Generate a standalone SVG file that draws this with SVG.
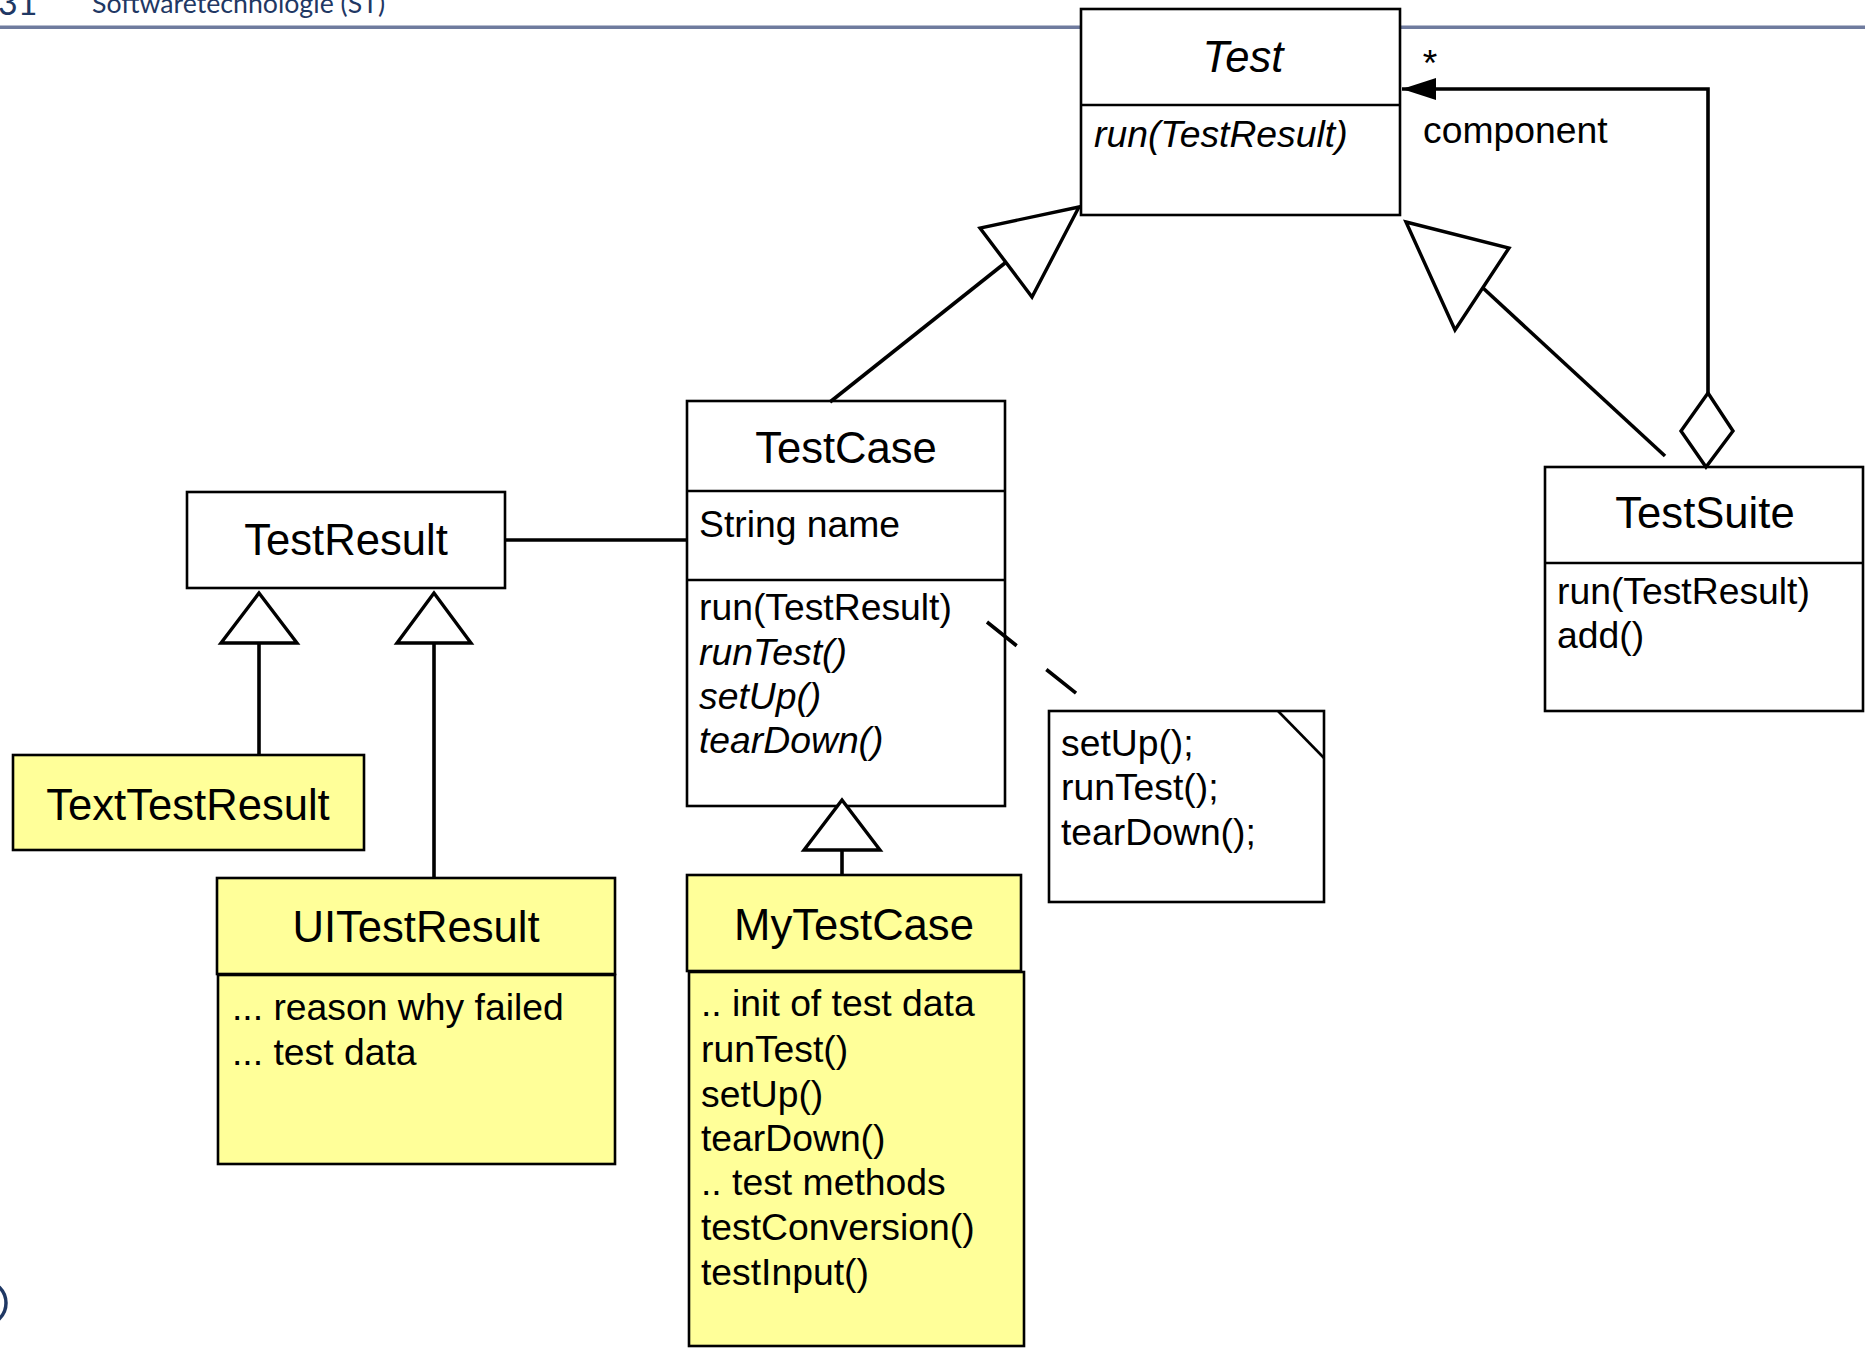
<svg xmlns="http://www.w3.org/2000/svg" width="1865" height="1350" viewBox="0 0 1865 1350">
<style>
.box{fill:#ffffff;stroke:#000;stroke-width:2.6}
.ybox{fill:#ffff99;stroke:#000;stroke-width:2.6}
.sep{stroke:#000;stroke-width:2.6}
.t{font-family:"Liberation Sans",Arial,sans-serif;fill:#000}
.cls{font-size:43.6px}
.mem{font-size:37.3px}
.it{font-style:italic}
.mid{text-anchor:middle}
.conn{stroke:#000;stroke-width:3.6;fill:none}
.tri{fill:#fff;stroke:#000;stroke-width:3.4;stroke-linejoin:miter}
.hdr{font-family:Lato,"Open Sans",sans-serif;fill:#1f3864}
</style>
<defs>
<marker id="arrowFilled" markerUnits="userSpaceOnUse" markerWidth="36" markerHeight="24" refX="34" refY="12" orient="auto">
<path d="M0,1 L34,12 L0,23 Z" fill="#000"/>
</marker>
</defs>
<g id="header">
<rect x="0" y="25.5" width="1865" height="3.5" fill="#6f7b9e"/>
<text class="hdr" x="-2" y="15" font-size="34">31</text>
<text class="hdr" x="92" y="13" font-size="26.7">Softwaretechnologie (ST)</text>
<circle cx="-16" cy="1303" r="22" fill="none" stroke="#1f3864" stroke-width="3.5"/>
</g>
<g id="Test">
<rect class="box" x="1081" y="9" width="319" height="206"/>
<line class="sep" x1="1081" y1="105" x2="1400" y2="105"/>
<text class="t cls it mid" x="1243" y="72">Test</text>
<text class="t mem it" x="1094" y="147">run(TestResult)</text>
</g>
<g id="TestCase">
<rect class="box" x="687" y="401" width="318" height="405"/>
<line class="sep" x1="687" y1="491" x2="1005" y2="491"/>
<line class="sep" x1="687" y1="580" x2="1005" y2="580"/>
<text class="t cls mid" x="846" y="463">TestCase</text>
<text class="t mem" x="699" y="537">String name</text>
<text class="t mem" x="699" y="620">run(TestResult)</text>
<text class="t mem it" x="699" y="665">runTest()</text>
<text class="t mem it" x="699" y="709">setUp()</text>
<text class="t mem it" x="699" y="753">tearDown()</text>
</g>
<g id="TestResult">
<rect class="box" x="187" y="492" width="318" height="96"/>
<text class="t cls mid" x="346" y="555">TestResult</text>
</g>
<g id="TextTestResult">
<rect class="ybox" x="13" y="755" width="351" height="95"/>
<text class="t cls mid" x="188" y="820">TextTestResult</text>
</g>
<g id="UITestResult">
<rect class="ybox" x="218" y="975" width="397" height="189"/>
<rect class="ybox" x="217" y="878" width="398" height="96"/>
<text class="t cls mid" x="416" y="942">UITestResult</text>
<text class="t mem" x="232" y="1020">... reason why failed</text>
<text class="t mem" x="232" y="1065">... test data</text>
</g>
<g id="MyTestCase">
<rect class="ybox" x="689" y="972" width="335" height="374"/>
<rect class="ybox" x="687" y="875" width="334" height="96"/>
<text class="t cls mid" x="854" y="940">MyTestCase</text>
<text class="t mem" x="701" y="1016">.. init of test data</text>
<text class="t mem" x="701" y="1062">runTest()</text>
<text class="t mem" x="701" y="1107">setUp()</text>
<text class="t mem" x="701" y="1151">tearDown()</text>
<text class="t mem" x="701" y="1195">.. test methods</text>
<text class="t mem" x="701" y="1240">testConversion()</text>
<text class="t mem" x="701" y="1285">testInput()</text>
</g>
<g id="Note">
<rect class="box" x="1049" y="711" width="275" height="191"/>
<line class="sep" x1="1278" y1="711" x2="1324" y2="758"/>
<text class="t mem" x="1061" y="756">setUp();</text>
<text class="t mem" x="1061" y="800">runTest();</text>
<text class="t mem" x="1061" y="845">tearDown();</text>
</g>
<g id="TestSuite">
<rect class="box" x="1545" y="467" width="318" height="244"/>
<line class="sep" x1="1545" y1="563" x2="1863" y2="563"/>
<text class="t cls mid" x="1705" y="528">TestSuite</text>
<text class="t mem" x="1557" y="604">run(TestResult)</text>
<text class="t mem" x="1557" y="648">add()</text>
</g>
<g id="connectors">
<line class="conn" x1="505" y1="540" x2="687" y2="540"/>
<line class="conn" x1="259" y1="755" x2="259" y2="643"/>
<polygon class="tri" points="259,593 221,643 297,643"/>
<line class="conn" x1="434" y1="878" x2="434" y2="643"/>
<polygon class="tri" points="434,593 397,643 471,643"/>
<line class="conn" x1="842" y1="875" x2="842" y2="850"/>
<polygon class="tri" points="842,800 804,850 880,850"/>
<line class="conn" x1="830" y1="402" x2="1005" y2="263"/>
<polygon class="tri" points="1079,207 980,228 1032,297"/>
<line class="conn" x1="1665" y1="456" x2="1483" y2="288"/>
<polygon class="tri" points="1406,222 1509,248 1455,330"/>
<polyline class="conn" points="1708,393 1708,89 1402,89" marker-end="url(#arrowFilled)"/>
<polygon class="tri" points="1708,393 1733,431 1706,467 1681,431"/>
<line class="conn" x1="987" y1="622" x2="1077" y2="694" stroke-dasharray="38 38" stroke-width="3.2"/>
<text class="t mem" x="1430" y="76" text-anchor="middle">*</text>
<text class="t mem" x="1423" y="143">component</text>
</g>
</svg>
